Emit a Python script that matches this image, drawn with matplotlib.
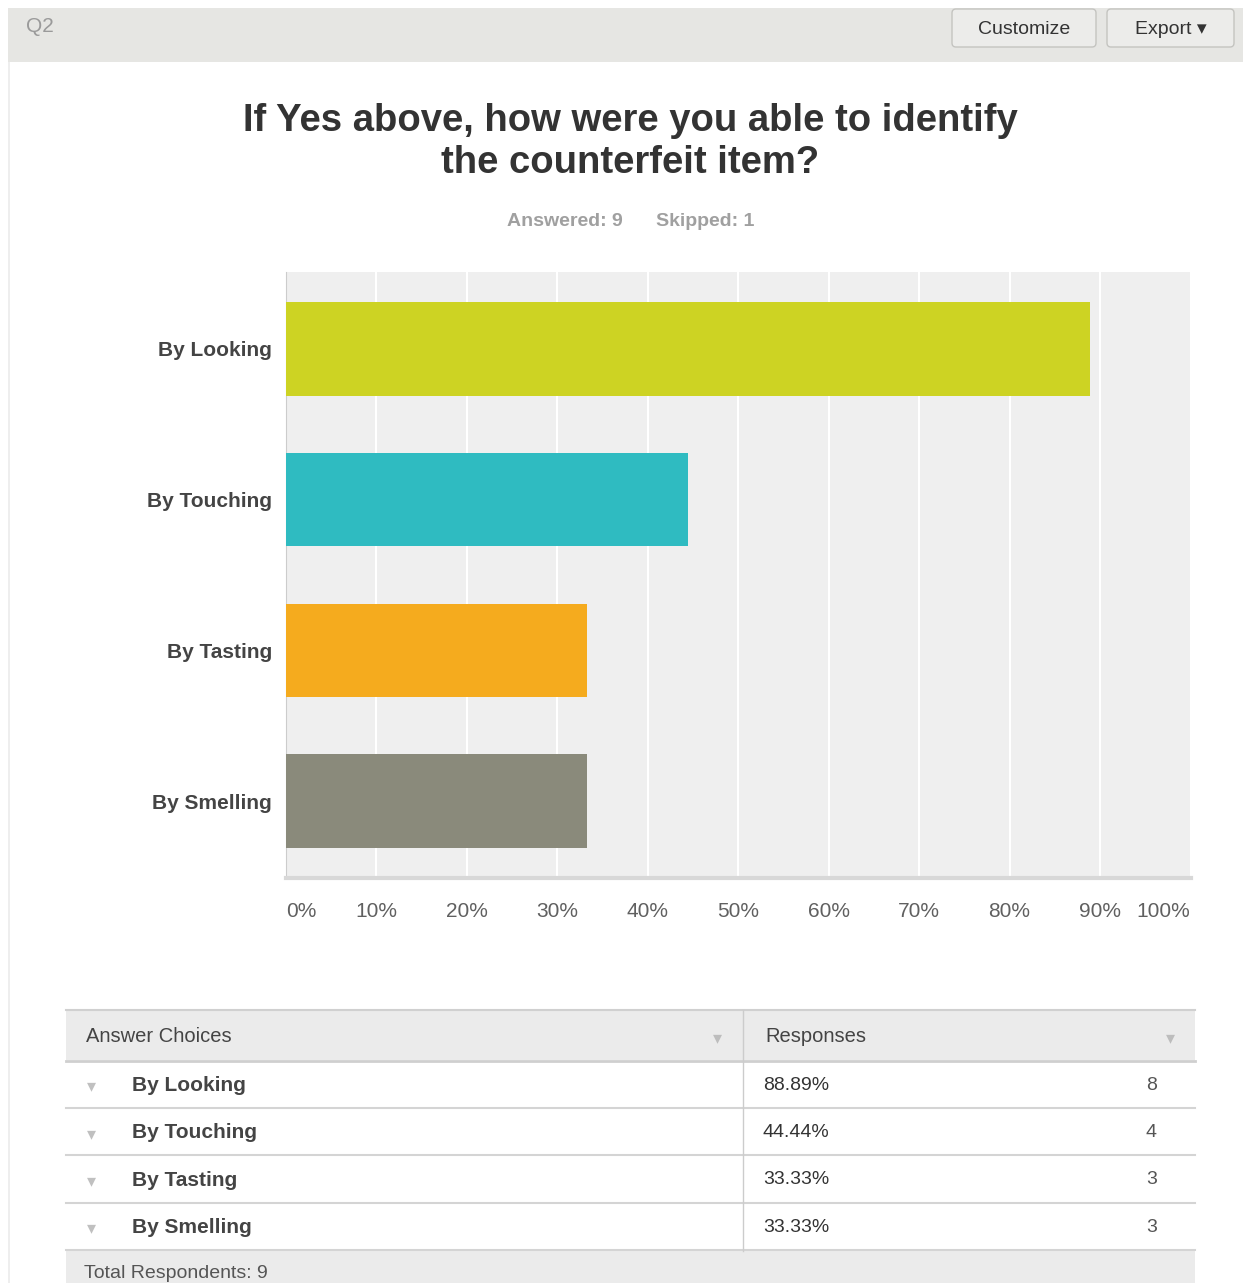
import matplotlib
matplotlib.use("Agg")
import matplotlib.pyplot as plt
from matplotlib.patches import Rectangle, FancyBboxPatch

plt.rcParams['font.family'] = ['Liberation Sans', 'DejaVu Sans']

categories = ["By Looking", "By Touching", "By Tasting", "By Smelling"]
percents = [88.89, 44.44, 33.33, 33.33]
counts = [8, 4, 3, 3]
colors = ["#cdd323", "#2fbbc1", "#f5ab1e", "#8a8a7b"]
xticks = [0, 10, 20, 30, 40, 50, 60, 70, 80, 90, 100]
xtick_labels = [f"{t}%" for t in xticks]
title = "If Yes above, how were you able to identify\nthe counterfeit item?"
answered, skipped = 9, 1
total_respondents = 9

W, H = 1243, 1283
fig = plt.figure(figsize=(W / 100, H / 100), dpi=100)
fig.patch.set_facecolor("white")

# overlay axes in pixel coordinates
ov = fig.add_axes([0, 0, 1, 1])
ov.set_xlim(0, W)
ov.set_ylim(H, 0)
ov.axis("off")

# header bar
ov.add_patch(Rectangle((8, 8), W - 8, 54, facecolor="#e6e6e3", edgecolor="none"))
ov.add_patch(Rectangle((8, 62), 2, H - 62, facecolor="#eeeeee", edgecolor="none"))
ov.text(26, 26, "Q2", fontsize=15, color="#9a9a9a", va="center", ha="left")
for (x0, x1, label) in [(952, 1096, "Customize"), (1107, 1234, "Export \u25be")]:
    ov.add_patch(FancyBboxPatch((x0, 9), x1 - x0, 38, boxstyle="round,pad=0,rounding_size=4",
                                facecolor="#ececea", edgecolor="#c4c4c0", linewidth=1))
    ov.text((x0 + x1) / 2, 29, label, fontsize=14, color="#333333", ha="center", va="center",
            family=['Liberation Sans', 'DejaVu Sans'])

# title + subtitle
ov.text(630, 142, title, fontsize=27.5, fontweight="bold", color="#333333",
        ha="center", va="center", linespacing=1.2)
ov.text(565, 222, f"Answered: {answered}", fontsize=14, fontweight="bold", color="#a0a0a0",
        ha="center", va="center")
ov.text(705, 222, f"Skipped: {skipped}", fontsize=14, fontweight="bold", color="#a0a0a0",
        ha="center", va="center")

# main chart
left_px, right_px, top_px, bot_px = 286, 1190.5, 272, 878
ax = fig.add_axes([left_px / W, 1 - bot_px / H, (right_px - left_px) / W, (bot_px - top_px) / H])
ax.set_facecolor("#efefef")
ypos = list(range(len(categories)))
ax.barh(ypos, percents, height=0.62, color=colors, zorder=3)
ax.set_xlim(0, 100)
ax.set_ylim(len(categories) - 0.49, -0.51)
ax.set_xticks(xticks)
ax.xaxis.grid(True, color="white", linewidth=1.5, zorder=1)
ax.set_axisbelow(True)
ax.set_yticks(ypos)
ax.set_yticklabels(categories, fontsize=15, fontweight="bold", color="#444444")
ax.tick_params(axis="y", length=0, pad=10)
ax.tick_params(axis="x", length=0, pad=17)
ax.set_xticklabels(xtick_labels, fontsize=15, color="#606060")
lbls = ax.get_xticklabels()
lbls[0].set_ha("left")
lbls[-1].set_ha("right")
for s in ["top", "right"]:
    ax.spines[s].set_visible(False)
ax.spines["left"].set_color("#cccccc")
ax.spines["bottom"].set_color("#d8d8d8")
ax.spines["bottom"].set_linewidth(3)

# table
tx0, tx1, colx = 66, 1195, 743
ov.add_patch(Rectangle((tx0, 1010), tx1 - tx0, 50, facecolor="#ebebeb", edgecolor="none"))
ov.plot([tx0, tx1], [1010, 1010], color="#d0d0d0", lw=1.5)
ov.plot([tx0, tx1], [1061, 1061], color="#cfcfcf", lw=2)
ov.text(86, 1037, "Answer Choices", fontsize=14.5, color="#444444", va="center")
ov.text(765, 1037, "Responses", fontsize=14.5, color="#444444", va="center")
ov.text(717, 1038, "\u25be", fontsize=13, color="#bdbdbd", va="center", ha="center",
        family=['DejaVu Sans'])
ov.text(1170, 1038, "\u25be", fontsize=13, color="#bdbdbd", va="center", ha="center",
        family=['DejaVu Sans'])
row_h = 47.2
for i, (cat, p, c) in enumerate(zip(categories, percents, counts)):
    yc = 1061 + row_h * (i + 0.5)
    ov.text(91, yc + 2, "\u25be", fontsize=13, color="#c0c0c0", va="center", ha="center",
            family=['DejaVu Sans'])
    ov.text(132, yc + 1, cat, fontsize=15, fontweight="bold", color="#444444", va="center")
    ov.text(763, yc + 1, f"{p:.2f}%", fontsize=14, color="#333333", va="center")
    ov.text(1157, yc + 1, str(c), fontsize=14, color="#555555", va="center", ha="right")
    yb = 1061 + row_h * (i + 1)
    ov.plot([tx0, tx1], [yb, yb], color="#d4d4d4", lw=1.5)
foot_y = 1061 + row_h * 4 + 1
ov.add_patch(Rectangle((tx0, foot_y), tx1 - tx0, H - foot_y, facecolor="#ebebeb", edgecolor="none"))
ov.plot([colx, colx], [1010, foot_y], color="#cccccc", lw=1)
ov.text(84, 1274, f"Total Respondents: {total_respondents}", fontsize=14, color="#555555", va="center")

fig.savefig("out.png", dpi=100)
